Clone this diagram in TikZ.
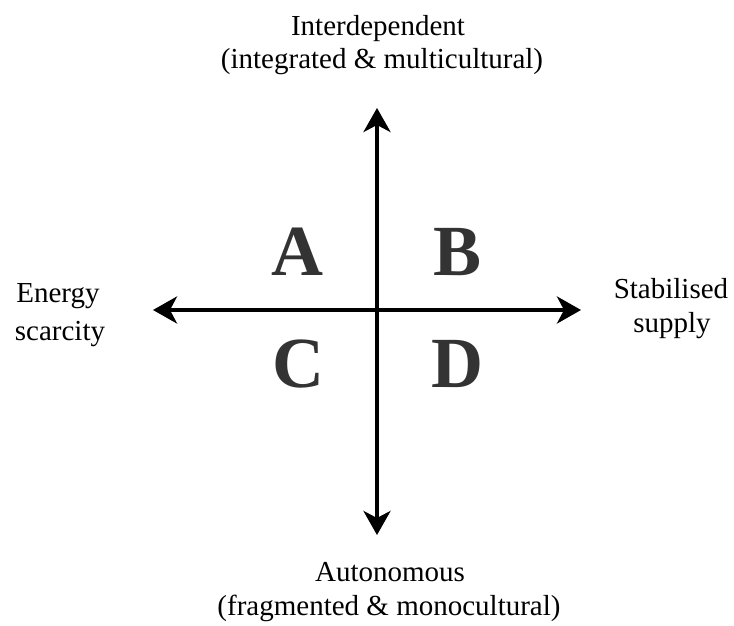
\documentclass[tikz,border=0pt]{standalone}
\usepackage{fontspec}
\setmainfont{Liberation Serif}
\usetikzlibrary{arrows.meta}
\definecolor{lettergray}{HTML}{333333}
\begin{document}
\begin{tikzpicture}[x=1pt,y=-1pt,
  axis/.style={line width=4pt,-{Stealth[length=24pt,width=27pt,inset=7pt]}},
  lbl/.style={anchor=base,inner sep=0pt,font=\rmfamily\fontsize{29}{33}\selectfont},
  quad/.style={anchor=base,inner sep=0pt,text=lettergray,font=\rmfamily\bfseries\fontsize{72}{72}\selectfont}]
\useasboundingbox (0,0) rectangle (734,626);
\coordinate (c) at (377,310);
\coordinate (n) at (377,108);
\coordinate (s) at (377,535);
\coordinate (w) at (153,310);
\coordinate (e) at (581,310);
\draw[axis] (c) -- (n);
\draw[axis] (c) -- (s);
\draw[axis] (c) -- (w);
\draw[axis] (c) -- (e);
\node[quad] (A) at (297,275) {A};
\node[quad] (B) at (458,275) {B};
\node[quad] (C) at (298,387) {C};
\node[quad] (D) at (457,387) {D};
\node[lbl] (t1) at (378,36) {Interdependent};
\node[lbl] (t2) at (382,69) {(integrated \& multicultural)};
\node[lbl] (b1) at (390,581) {Autonomous};
\node[lbl] (b2) at (389,615) {(fragmented \& monocultural)};
\node[lbl] (w1) at (58,302) {Energy};
\node[lbl] (w2) at (60,340) {scarcity};
\node[lbl] (e1) at (671,298) {Stabilised};
\node[lbl] (e2) at (672,332) {supply};
\end{tikzpicture}
\end{document}
